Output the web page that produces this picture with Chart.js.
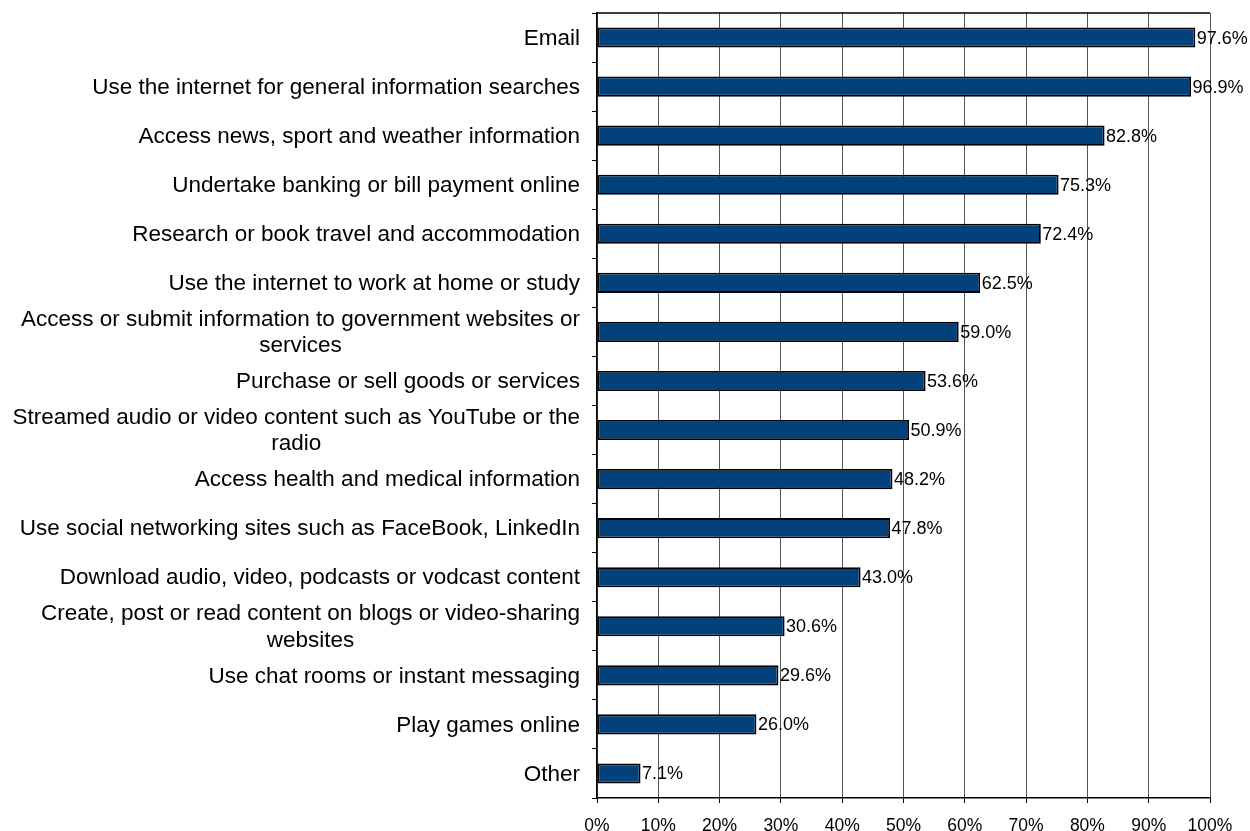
<!DOCTYPE html>
<html>
<head>
<meta charset="utf-8">
<script src="https://cdn.jsdelivr.net/npm/chart.js@4.4.1/dist/chart.umd.min.js"></script>
<style>
html,body{margin:0;padding:0;background:#fff;}
#wrap{width:1250px;height:831px;position:relative;}
</style>
</head>
<body>
<div id="wrap"><canvas id="c" width="1250" height="831"></canvas></div>
<script>
const categories = [
  "Email",
  "Use the internet for general information searches",
  "Access news, sport and weather information",
  "Undertake banking or bill payment online",
  "Research or book travel and accommodation",
  "Use the internet to work at home or study",
  ["Access or submit information to government websites or", "services"],
  "Purchase or sell goods or services",
  ["Streamed audio or video content such as YouTube or the", "radio"],
  "Access health and medical information",
  "Use social networking sites such as FaceBook, LinkedIn",
  "Download audio, video, podcasts or vodcast content",
  ["Create, post or read content on blogs or video-sharing", "websites"],
  "Use chat rooms or instant messaging",
  "Play games online",
  "Other"
];
const values = [97.6, 96.9, 82.8, 75.3, 72.4, 62.5, 59.0, 53.6, 50.9, 48.2, 47.8, 43.0, 30.6, 29.6, 26.0, 7.1];
const xTicks = [0, 10, 20, 30, 40, 50, 60, 70, 80, 90, 100];

const FONT = "'Liberation Sans', Arial, sans-serif";

const customDraw = {
  id: 'customDraw',
  afterDraw(chart) {
    const ctx = chart.ctx;
    const ys = chart.scales.y;
    const area = chart.chartArea;
    ctx.save();
    // top border
    ctx.strokeStyle = '#000';
    ctx.lineWidth = 1.5;
    ctx.beginPath();
    ctx.moveTo(area.left, area.top);
    ctx.lineTo(area.right, area.top);
    ctx.stroke();
    // category labels
    ctx.fillStyle = '#000';
    ctx.font = '22.5px ' + FONT;
    ctx.textBaseline = 'middle';
    const xr = 580;
    const lh = 26.5;
    categories.forEach((lab, i) => {
      const y = ys.getPixelForTick(i) + 1;
      if (Array.isArray(lab)) {
        const w = Math.max(...lab.map(l => ctx.measureText(l).width));
        const cx = xr - w / 2;
        ctx.textAlign = 'center';
        lab.forEach((l, k) => {
          ctx.fillText(l, cx, y - (lab.length - 1) * lh / 2 + k * lh);
        });
      } else {
        ctx.textAlign = 'right';
        ctx.fillText(lab, xr, y);
      }
    });
    // value labels
    const meta = chart.getDatasetMeta(0);
    ctx.font = '18px ' + FONT;
    ctx.textAlign = 'left';
    meta.data.forEach((bar, i) => {
      ctx.fillText(values[i].toFixed(1) + '%', bar.x + 1.5, bar.y + 1);
    });
    ctx.restore();
  }
};

new Chart(document.getElementById('c'), {
  type: 'bar',
  data: {
    labels: categories,
    datasets: [{
      data: values,
      backgroundColor: '#02417A',
      borderColor: '#000',
      borderWidth: 1.8,
      borderSkipped: false,
      barPercentage: 0.82,
      categoryPercentage: 0.5
    }]
  },
  options: {
    indexAxis: 'y',
    responsive: false,
    animation: false,
    devicePixelRatio: 1,
    layout: { padding: { top: 13, right: 40, left: 0, bottom: 0 } },
    plugins: { legend: { display: false }, tooltip: { enabled: false } },
    scales: {
      x: {
        min: 0, max: 100,
        afterBuildTicks(scale) { scale.ticks = xTicks.map(v => ({ value: v })); },
        afterFit(scale) { scale.height = 33; },
        grid: { color: '#555', lineWidth: 1, drawTicks: true, tickLength: 5, tickColor: '#000' },
        border: { color: '#000', width: 1.5 },
        ticks: {
          color: '#000',
          font: { family: FONT, size: 17.5 },
          padding: 13,
          callback: (v) => v + '%',
          maxRotation: 0
        }
      },
      y: {
        afterFit(scale) { scale.width = 597; },
        grid: { offset: true, drawOnChartArea: false, drawTicks: true, tickLength: 5, tickColor: '#000' },
        border: { color: '#000', width: 1.5 },
        ticks: { display: false }
      }
    }
  },
  plugins: [customDraw]
});
</script>
</body>
</html>
